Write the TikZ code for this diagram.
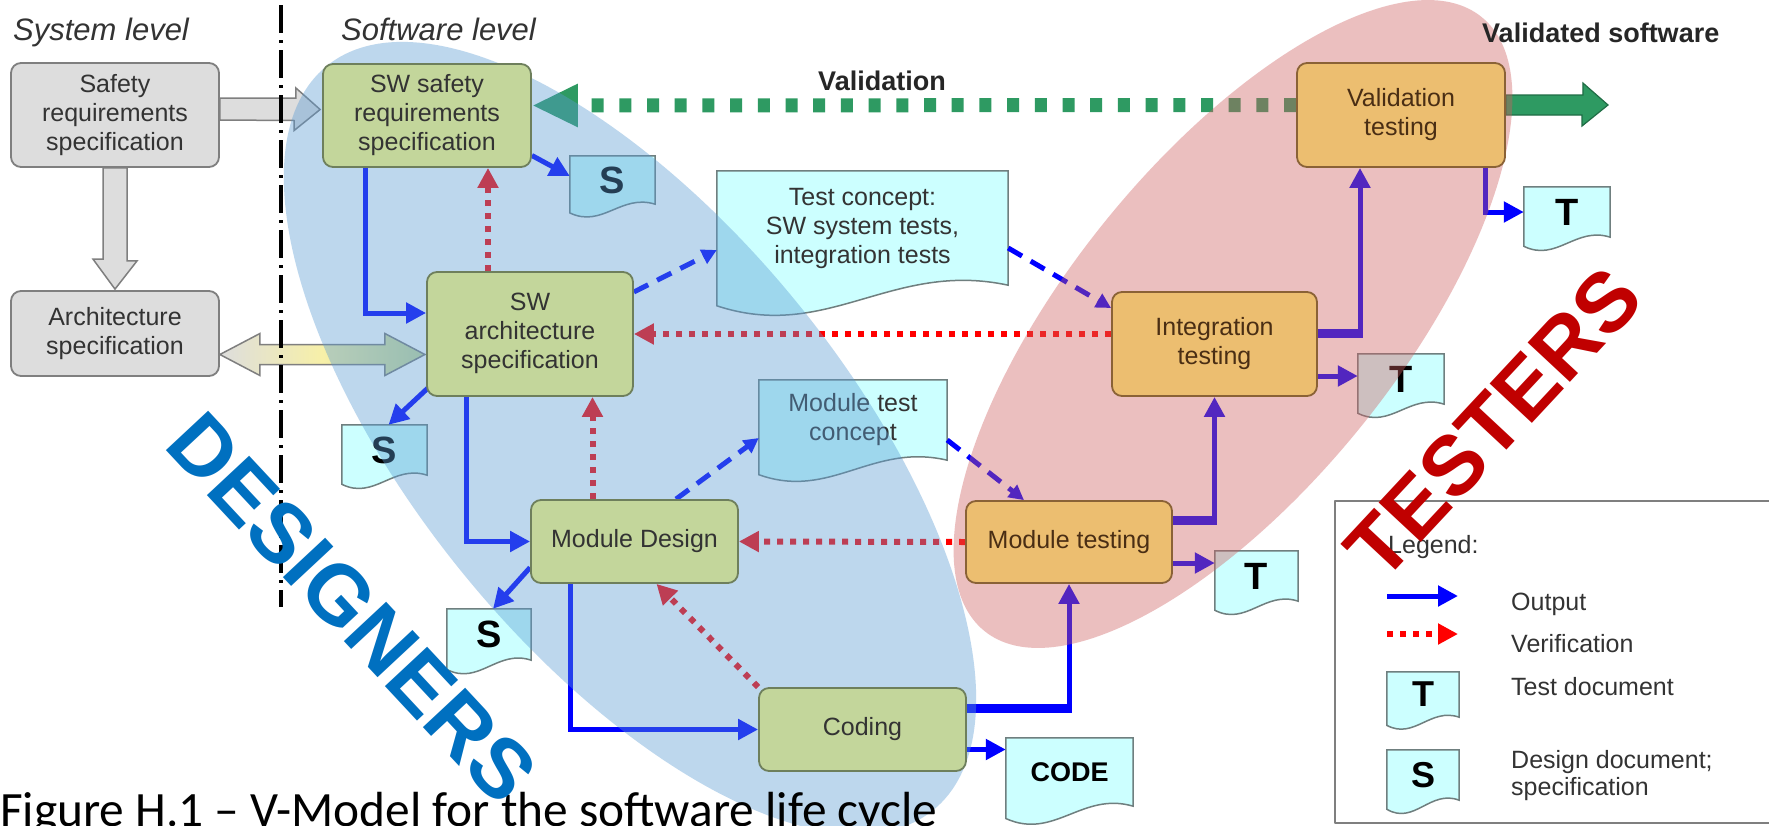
\documentclass[tikz,border=0pt]{standalone}
\usepackage{fontspec}
\setmainfont{Liberation Sans}
\newfontfamily\capfont{Carlito}
\usepackage{graphicx}
\usetikzlibrary{arrows.meta,calc}
\definecolor{boxgreen}{HTML}{C3D69B}
\definecolor{greenborder}{HTML}{6E7F5C}
\definecolor{boxorange}{HTML}{ECBE70}
\definecolor{orangeborder}{HTML}{8A6236}
\definecolor{boxgray}{HTML}{DDDDDD}
\definecolor{grayborder}{HTML}{7F7F7F}
\definecolor{doccyan}{HTML}{CCFFFF}
\definecolor{docborder}{HTML}{6F7F7F}
\definecolor{valgreen}{HTML}{2E9A62}
\definecolor{ovblue}{HTML}{5A9BD4}
\definecolor{ovpink}{HTML}{CF5F61}
\definecolor{desblue}{HTML}{0070C0}
\definecolor{testred}{HTML}{C00000}
\definecolor{txtgray}{HTML}{333333}
\definecolor{txtbrown}{HTML}{4A2E14}
\definecolor{paleyellow}{HTML}{F7F0A8}
\newcommand{\myfs}[2]{\fontsize{#1}{#2}\selectfont}
\newcommand{\docwave}[1]{%
  \filldraw[docshape] let \p1=(#1.north west), \p2=(#1.south east), \n1={\y1-\y2} in
    (\p1) -- (\x2,\y1) -- (\p2)
    .. controls ($(\p2)!0.4!(\x1,\y2)+(0pt,{0.22*\n1*1pt})$) and ($(\p2)!0.62!(\x1,\y2)-(0pt,{0.5*\n1*1pt})$) .. (\x1,{\y2-0.18*\n1*1pt}) -- cycle;}
\pgfdeclarelayer{bg}
\pgfdeclarelayer{docs}
\pgfdeclarelayer{conn}
\pgfdeclarelayer{ov}
\pgfsetlayers{bg,docs,conn,ov,main}
\tikzset{
  box/.style={rounded corners=10pt, line width=1.8pt, align=center, inner sep=0pt, font=\myfs{25}{29}},
  greenbox/.style={box, fill=boxgreen, draw=greenborder, text=txtgray},
  orangebox/.style={box, fill=boxorange, draw=orangeborder, text=txtbrown},
  graybox/.style={box, fill=boxgray, draw=grayborder, text=txtgray},
  docnode/.style={inner sep=0pt, align=center, text=black},
  docshape/.style={fill=doccyan, draw=docborder, line width=1.5pt},
  outarrow/.style={draw=blue, line width=5pt, -{Triangle[length=20pt,width=20pt]}},
  thickseg/.style={draw=blue, line width=9pt},
  verif/.style={draw=red, line width=6pt, dash pattern=on 6pt off 7pt, -{Triangle[length=20pt,width=20pt]}},
  plan/.style={draw=blue, line width=5pt, dash pattern=on 16pt off 10pt, -{Triangle[length=15pt,width=15pt]}},
  valid/.style={draw=valgreen, line width=14pt, dash pattern=on 12pt off 15.7pt, -{Triangle[length=46pt,width=40pt]}},
  hollow/.style={fill=boxgray, draw=grayborder, line width=1.5pt},
  lbl/.style={inner sep=0pt, anchor=base west, font=\myfs{25}{29}, text=txtgray},
}
\begin{document}
\begin{tikzpicture}[x=1pt, y=-1pt, line join=round]
\begin{pgfonlayer}{bg}
\fill[white] (0,0) rectangle (1769,825);
\end{pgfonlayer}
\useasboundingbox (0,0) rectangle (1769,825);

% boxes
\node[graybox, minimum width=208pt, minimum height=104pt] (sysreq) at (115,115) {Safety\\requirements\\specification};
\node[graybox, minimum width=208pt, minimum height=85pt] (sysarch) at (115,333.5) {Architecture\\specification};
\node[greenbox, minimum width=208pt, minimum height=103pt] (swreq) at (427,115.5) {SW safety\\requirements\\specification};
\node[greenbox, minimum width=206pt, minimum height=124pt] (swarch) at (530,334) {\raisebox{8pt}{\begin{tabular}{@{}c@{}}SW\\architecture\\specification\end{tabular}}};
\node[greenbox, minimum width=207pt, minimum height=83pt] (moddes) at (634.5,541.5) {Module Design};
\node[greenbox, minimum width=207pt, minimum height=83pt] (coding) at (862.5,729.5) {Coding};
\node[orangebox, minimum width=206pt, minimum height=82pt] (modtest) at (1069,542) {Module testing};
\node[orangebox, minimum width=205pt, minimum height=104pt] (inttest) at (1214.5,344) {Integration\\testing};
\node[orangebox, minimum width=208pt, minimum height=104pt] (valtest) at (1401,115) {Validation\\testing};

\begin{pgfonlayer}{conn}
% documents
\node[docnode, minimum width=85pt, minimum height=48pt, font=\bfseries\myfs{38}{40}] (s1) at (612.5,180) {S};
\node[docnode, minimum width=85pt, minimum height=50pt, font=\bfseries\myfs{38}{40}] (s2) at (384.5,450) {S};
\node[docnode, minimum width=84pt, minimum height=51pt, font=\bfseries\myfs{38}{40}] (s3) at (489,634.5) {S};
\node[docnode, minimum width=127pt, minimum height=68pt, font=\bfseries\myfs{27}{30}] (code) at (1069.5,772) {CODE};
\node[docnode, minimum width=291pt, minimum height=114pt, font=\myfs{25}{29}, text=txtgray] (testc) at (862.5,228) {Test concept:\\SW system tests,\\integration tests};
\node[docnode, minimum width=188pt, minimum height=80pt, font=\myfs{25}{29}, text=txtgray] (modtc) at (853,420) {Module test\\concept};
\node[docnode, minimum width=86pt, minimum height=50pt, font=\bfseries\myfs{38}{40}] (t1) at (1567,212) {T};
\node[docnode, minimum width=86pt, minimum height=50pt, font=\bfseries\myfs{38}{40}] (t2) at (1401,379) {T};
\node[docnode, minimum width=83pt, minimum height=50pt, font=\bfseries\myfs{38}{40}] (t3) at (1256.5,576) {T};

% system level arrows
\draw[hollow] ([xshift=-12pt]sysreq.south) -- ++(24,0) -- ++(0,93) -- ++(10,0) -- ([yshift=1pt]sysarch.north) -- ++(-22,-30) -- ++(10,0) -- cycle;
\draw[hollow] ([yshift=17pt]sysreq.east) -- ++(76,0) -- ++(0,-10) -- ([shift={(-2pt,6pt)}]swreq.west) -- ++(-26,21) -- ++(0,-10) -- ([yshift=-5pt]sysreq.east) -- cycle;
\path[draw=grayborder, line width=1.5pt, left color=boxgray, right color=boxgreen, middle color=paleyellow]
  ([yshift=-21pt]sysarch.east) -- ++(40,-21) -- ++(0,11) -- ++(125,0) -- ++(0,-11) -- ++(40,21) -- ++(-40,21) -- ++(0,-11) -- ++(-125,0) -- ++(0,11) -- cycle;

% dash-dot separator
\coordinate (dtop) at (281,5);
\coordinate (dbot) at (281,607);
\draw[line width=3.5pt, dash pattern=on 28pt off 7pt on 3pt off 7pt] (dtop) -- (dbot);

% outputs and verification
\draw[outarrow] ([xshift=-62pt]swreq.south) |- ([yshift=21pt]swarch.west);
\coordinate (v1) at ([xshift=-42pt]swarch.north);
\draw[verif] (v1) -- (v1 |- swreq.south);
\draw[outarrow] ([yshift=-40pt]swreq.east) -- ([yshift=4pt]s1.west);
\draw[outarrow] ([shift={(3pt,10pt)}]swarch.south west) -- ([xshift=4pt]s2.north);
\draw[outarrow] ([xshift=-64pt]swarch.south) |- (moddes.west);
\coordinate (v2) at ([xshift=-42pt]moddes.north);
\draw[verif] (v2) -- (v2 |- swarch.south);
\draw[outarrow] ([yshift=-26pt]moddes.west) -- ([xshift=4pt]s3.north);
\draw[outarrow] ([xshift=-64.5pt]moddes.south) |- (coding.west);
\draw[verif] (coding.north west) -- ([xshift=22pt]moddes.south);
\coordinate (c1) at ([yshift=-20pt]coding.east);
\draw[outarrow] (c1) -- (c1 -| code.west);
\coordinate (c2) at ([yshift=21pt]coding.east);
\coordinate (c2b) at (c2 -| modtest.south);
\draw[outarrow] (c2) -| (modtest.south);
\draw[thickseg] (c2) -- ([xshift=2.5pt]c2b);
\draw[verif] (modtest.west) -- (moddes.east);
\coordinate (m1) at ([yshift=-21pt]modtest.east);
\draw[outarrow] (m1) -- (m1 -| t3.west);
\coordinate (m2) at ([yshift=22pt]modtest.east);
\coordinate (m2b) at (m2 -| inttest.south);
\draw[outarrow] (m2) -| (inttest.south);
\draw[thickseg] (m2) -- ([xshift=2.5pt]m2b);
\draw[verif] (inttest.west |- swarch.east) -- (swarch.east);
\coordinate (i1) at ([yshift=-32pt]inttest.east);
\draw[outarrow] (i1) -- (i1 -| t2.west);
\coordinate (i2) at ([yshift=11pt]inttest.east);
\coordinate (i3) at ([xshift=-41pt]valtest.south);
\coordinate (i2b) at (i2 -| i3);
\draw[outarrow] (i2) -| (i3);
\draw[thickseg] (i2) -- ([xshift=2.5pt]i2b);
\draw[outarrow] ([xshift=84pt]valtest.south) |- (t1.west);
\draw[valid] ([yshift=10pt]valtest.west) -- ([yshift=10pt]swreq.east);
\coordinate (vout) at (1608,105);
\draw[fill=valgreen, draw=valgreen!70!black, line width=1.2pt] ([yshift=20pt]valtest.east) -- ++(77,0) -- ++(0,-12) -- (vout) -- ++(-26,21) -- ++(0,-11) -- (valtest.east) -- cycle;

% test concept flows
\draw[plan] ([yshift=42pt]swarch.east) -- ([yshift=-22pt]testc.west);
\draw[plan] ([yshift=-20pt]testc.east) -- ([yshift=36pt]inttest.west);
\draw[plan] ([xshift=41.5pt]moddes.north) -- ([yshift=-18pt]modtc.west);
\draw[plan] ([yshift=-20pt]modtc.east) -- ([xshift=-45pt]modtest.north);
\end{pgfonlayer}

% overlays
\begin{pgfonlayer}{ov}
\fill[ovblue, opacity=0.4, rotate around={-50.8:(630,438)}] (630,438) ellipse [x radius=480pt, y radius=215pt];
\fill[ovpink, opacity=0.4, rotate around={51:(1233,324)}] (1233,324) ellipse [x radius=395pt, y radius=164pt];
\end{pgfonlayer}

% labels
\node[inner sep=0pt, anchor=base west, font=\itshape\myfs{31}{36}, text=txtgray] (syslvl) at (13,40) {System level};
\node[inner sep=0pt, anchor=base west, font=\itshape\myfs{31}{36}, text=txtgray] (swlvl) at (341,40) {Software level};
\node[inner sep=0pt, anchor=base, font=\bfseries\myfs{27}{30}, text=black!85] (vallbl) at (882,90) {Validation};
\node[inner sep=0pt, anchor=base west, font=\bfseries\myfs{27}{30}, text=black!85] (valsw) at (1482,42) {Validated software};

% legend
\draw[draw=grayborder, line width=2pt] (1335,501) rectangle (1800,823);
\node[lbl] (leg) at (1388,553) {Legend:};
\coordinate (lo1) at (1387,596);
\coordinate (lo2) at (1458,596);
\draw[outarrow] (lo1) -- (lo2);
\node[lbl] (lout) at (1511,610) {Output};
\coordinate (lv1) at (1387,634);
\coordinate (lv2) at (1458,634);
\draw[verif] (lv1) -- (lv2);
\node[lbl] (lver) at (1511,652) {Verification};
\node[docnode, minimum width=72pt, minimum height=45pt, font=\bfseries\myfs{36}{40}] (legT) at (1423,694.5) {T};
\node[lbl] (ltest) at (1511,695) {Test document};
\node[docnode, minimum width=72pt, minimum height=50pt, font=\bfseries\myfs{36}{40}] (legS) at (1423,775) {S};
\node[lbl] (ldes1) at (1511,768) {Design document;};
\node[lbl] (ldes2) at (1511,795) {specification};

\begin{pgfonlayer}{docs}
\docwave{s1}
\docwave{s2}
\docwave{s3}
\docwave{code}
\docwave{testc}
\docwave{modtc}
\docwave{t1}
\docwave{t2}
\docwave{t3}
\docwave{legT}
\docwave{legS}
\end{pgfonlayer}

% caption
\node[inner sep=0pt, anchor=base west] (cap) at (0,826) {\resizebox{937pt}{!}{\capfont Figure H.1 – V-Model for the software life cycle}};

% big labels
\node[rotate=-47, inner sep=0pt, font=\bfseries\myfs{84}{90}, text=desblue] (des) at (352,608) {DESIGNERS};
\node[rotate=47, inner sep=0pt, font=\bfseries\myfs{84}{90}, text=testred] (tst) at (1493,423) {TESTERS};
\end{tikzpicture}
\end{document}
